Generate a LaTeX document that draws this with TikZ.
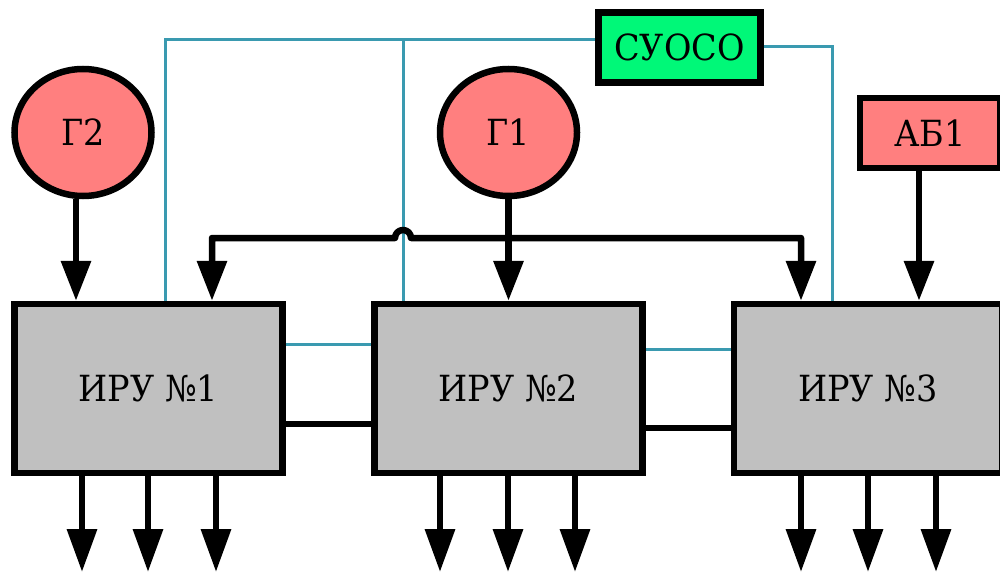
\documentclass[tikz,border=0pt]{standalone}
\usepackage{fontspec}
\setmainfont{DejaVu Serif}[FakeStretch=0.93]
\usetikzlibrary{arrows.meta,shapes.geometric,calc}
\definecolor{pinkf}{HTML}{FF7F7F}
\definecolor{greenf}{HTML}{00F878}
\definecolor{grayf}{HTML}{C0C0C0}
\definecolor{tealc}{HTML}{3A9AB0}
\begin{document}
\begin{tikzpicture}[x=1pt,y=-1pt,
  lbl/.style={font=\fontsize{36}{40}\selectfont, text=black},
  iru/.style={lbl, rectangle, draw=black, fill=grayf, line width=6.5pt, minimum width=268pt, minimum height=169pt, inner sep=0pt},
  gen/.style={lbl, ellipse, draw=black, fill=pinkf, line width=6.5pt, minimum width=137pt, minimum height=127pt, inner sep=0pt},
  ctrl/.style={lbl, rectangle, draw=black, fill=greenf, line width=6.5pt, minimum width=162pt, minimum height=70pt, inner sep=0pt},
  batt/.style={lbl, rectangle, draw=black, fill=pinkf, line width=6.5pt, minimum width=140pt, minimum height=70pt, inner sep=0pt},
  arrin/.style={draw=black, line width=6.5pt, line join=round, -{Triangle[length=40pt,width=29pt]}},
  arrout/.style={draw=black, line width=6.5pt, -{Triangle[length=43pt,width=29pt]}},
  tline/.style={draw=tealc, line width=3pt},
  bline/.style={draw=black, line width=6.5pt, line join=round}
]
\useasboundingbox (0,0) rectangle (1000,572);

% nodes
\node[iru] (b1) at (148.5,388.5) {ИРУ №1};
\node[iru] (b2) at (508.5,388.5) {ИРУ №2};
\node[iru] (b3) at (868,388.5) {ИРУ №3};
\node[gen] (g2) at (83,132.5) {Г2};
\node[gen] (g1) at (508.5,132.5) {Г1};
\node[ctrl] (su) at (679.5,47.5) {СУОСО};
\node[batt] (ab) at (930,133) {АБ1};

% teal control lines
\coordinate (jt) at (403,40);
\draw[tline] (b1.north -| 165,0) |- (su.west |- jt);
\draw[tline] (b2.north -| jt) -- (jt);
\draw[tline] (su.east |- 0,47) -| (b3.north -| 832,0);
\draw[tline] (b1.east |- 0,344) -- (b2.west |- 0,344);
\draw[tline] (b2.east |- 0,349) -- (b3.west |- 0,349);

% black links between boxes
\draw[bline] (b1.east |- 0,424) -- (b2.west |- 0,424);
\draw[bline] (b2.east |- 0,428) -- (b3.west |- 0,428);

% bus with jump over the teal line
\coordinate (busL) at (212,238);
\coordinate (busR) at (801,238);
\draw[bline, {Triangle[length=40pt,width=29pt]}-{Triangle[length=40pt,width=29pt]}]
  (b1.north -| busL) -- (busL) -- (395,238) arc[start angle=180, end angle=0, radius=8pt] -- (busR) -- (b3.north -| busR);

% source arrows
\coordinate (g2x) at (76,0);
\coordinate (abx) at (919,0);
\draw[arrin] (g2.south -| g2x) -- (b1.north -| g2x);
\draw[arrin] (g1.south) -- (b2.north -| g1.south);
\draw[arrin] (ab.south -| abx) -- (b3.north -| abx);

% output arrows
\foreach \n/\x/\b in {a/82/b1, b/148/b1, c/216/b1, d/440/b2, e/508/b2, f/575/b2, g/801/b3, h/868/b3, i/936/b3}{
  \coordinate (o\n) at (\x,572);
  \draw[arrout] (\b.south -| o\n) -- (o\n);
}
\end{tikzpicture}
\end{document}
